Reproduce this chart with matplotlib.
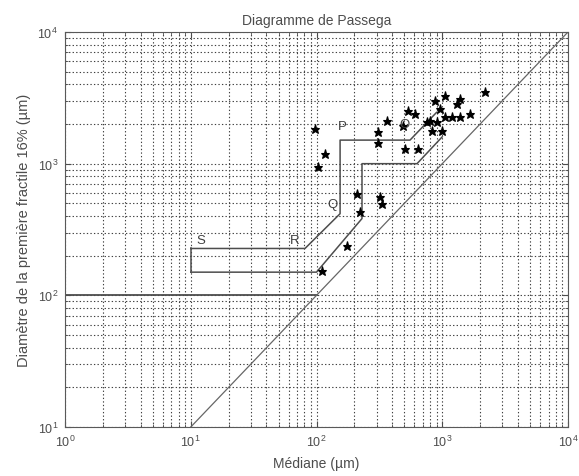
import numpy as np
import matplotlib
matplotlib.use('Agg')
import matplotlib.pyplot as plt
from matplotlib.ticker import LogLocator, NullFormatter

plt.rcParams['font.family'] = ['Liberation Sans', 'DejaVu Sans']
plt.rcParams['mathtext.default'] = 'regular'

# median C vs first percentile (16%) M, in micrometres
med = [97, 117, 103, 210, 222, 175, 111, 306, 306, 320, 332, 364, 487, 505,
       641, 534, 607, 757, 829, 876, 1052, 960, 1384, 1309, 2188, 1052, 1196,
       1384, 1662, 799, 908, 995]
d16 = [1841, 1191, 949, 592, 433, 235, 152, 1747, 1430, 562, 498, 2117, 1941, 1300,
       1300, 2524, 2393, 2081, 1778, 2998, 3277, 2610, 3105, 2848, 3511, 2272, 2272,
       2272, 2393, 2117, 2081, 1778]

# boundaries of the Passega pattern
upper_x = [900, 554, 154, 154, 81, 10]
upper_y = [2450, 1510, 1510, 417, 227, 227]
lower_x = [1000, 630, 230, 230, 100, 10]
lower_y = [1600, 1000, 1000, 383, 150, 150]
join_x = [10, 10]
join_y = [227, 150]
cm_x = [10, 10000]
cm_y = [10, 10000]
base_x = [1, 100]
base_y = [100, 100]

labels = ['S', 'R', 'Q', 'P', 'O']
lab_x = [12, 67, 135, 160, 505]
lab_y = [265, 265, 498, 1941, 2010]

fig = plt.figure(figsize=(5.79, 4.77), dpi=100)
ax = fig.add_axes([0.1123, 0.1027, 0.8687, 0.8281])
ax.set_xscale('log')
ax.set_yscale('log')
ax.set_xlim(1, 1e4)
ax.set_ylim(10, 1e4)

ax.grid(True, which='both', linestyle=(0, (1.2, 2.0)), color='0.25', linewidth=0.8)
ax.set_axisbelow(True)

lc = '0.3'
ax.plot(upper_x, upper_y, color=lc, lw=1.1)
ax.plot(lower_x, lower_y, color=lc, lw=1.1)
ax.plot(join_x, join_y, color=lc, lw=1.1)
ax.plot(base_x, base_y, color=lc, lw=1.3)
ax.plot(cm_x, cm_y, color='0.4', lw=0.9)

ax.plot(med, d16, linestyle='none', marker='*', markersize=6.5, color='k',
        markeredgewidth=0.8)

for t, x, y in zip(labels, lab_x, lab_y):
    ax.text(x, y, t, fontsize=9.5, color='0.25', ha='center', va='center')

ax.xaxis.set_major_locator(LogLocator(base=10, numticks=10))
ax.yaxis.set_major_locator(LogLocator(base=10, numticks=10))
ax.xaxis.set_minor_locator(LogLocator(base=10, subs=np.arange(2, 10), numticks=20))
ax.yaxis.set_minor_locator(LogLocator(base=10, subs=np.arange(2, 10), numticks=20))
ax.xaxis.set_minor_formatter(NullFormatter())
ax.yaxis.set_minor_formatter(NullFormatter())
ax.tick_params(which='both', direction='in', top=True, right=True, colors='0.3',
               labelcolor='0.3', labelsize=9)
ax.tick_params(which='major', length=4, pad=5)
ax.tick_params(which='minor', length=2)
for s in ax.spines.values():
    s.set_color('0.35')

ax.set_title('Diagramme de Passega', fontsize=10, color='0.3', pad=6)
ax.set_xlabel('Médiane (µm)', fontsize=10, color='0.3', labelpad=5)
ax.set_ylabel('Diamètre de la première fractile 16% (µm)', fontsize=10.5,
              color='0.3', labelpad=5)

plt.savefig('out.png', dpi=100)
